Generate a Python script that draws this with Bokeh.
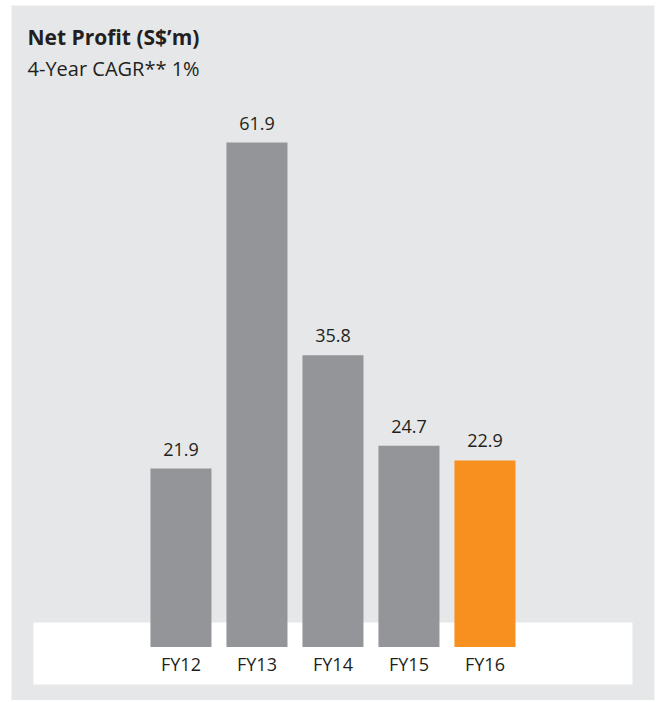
from bokeh.plotting import figure
from bokeh.models import ColumnDataSource, LabelSet, Label, Range1d
from bokeh.core.properties import value
from bokeh.embed import file_html
from bokeh.resources import INLINE

# ---- data ----
categories = ["FY12", "FY13", "FY14", "FY15", "FY16"]
net_profit = [21.9, 61.9, 35.8, 24.7, 22.9]
bar_colors = ["#939598", "#939598", "#939598", "#939598", "#f7901e"]
title_text = "Net Profit (S$\u2019m)"
subtitle_text = "4-Year CAGR** 1%"

BG = "#e6e7e8"
TXT = "#231f20"
FONT = "Open Sans"

xs = list(range(len(categories)))
src = ColumnDataSource(dict(
    x=xs,
    value=net_profit,
    color=bar_colors,
    label=[f"{v:.1f}" for v in net_profit],
    cat=categories,
    zero=[0] * len(categories),
))

p = figure(width=661, height=700, output_backend="svg", toolbar_location=None,
           x_range=Range1d(-2.230, 6.231), y_range=Range1d(-6.56, 78.71),
           x_axis_location=None, y_axis_location=None,
           min_border_left=11, min_border_right=7, min_border_top=5, min_border_bottom=0)
p.background_fill_color = BG
p.border_fill_color = "white"
p.outline_line_color = None
p.grid.visible = False

# white baseline band
p.quad(left=-1.941, right=5.941, top=3.0, bottom=-4.60,
       fill_color="white", line_color=None)

p.vbar(x="x", top="value", bottom=0, width=0.803, fill_color="color",
       line_color=None, source=src)

p.add_layout(LabelSet(x="x", y="value", text="label", source=src,
                      text_align="center", text_baseline="alphabetic",
                      y_offset=13, text_font=value(FONT), text_font_size="18px",
                      text_color=TXT))
p.add_layout(LabelSet(x="x", y="zero", text="cat", source=src,
                      text_align="center", text_baseline="alphabetic",
                      y_offset=-24, text_font=value(FONT), text_font_size="18px",
                      text_color=TXT))

p.add_layout(Label(x=-2.019, y=74.79, text=title_text, text_font=FONT,
                   text_font_size="21px", text_font_style="bold",
                   text_color=TXT, text_baseline="alphabetic"))
p.add_layout(Label(x=-2.019, y=70.98, text=subtitle_text, text_font=FONT,
                   text_font_size="20px", text_color=TXT,
                   text_baseline="alphabetic"))

open("out.html", "w").write(file_html(p, INLINE))
